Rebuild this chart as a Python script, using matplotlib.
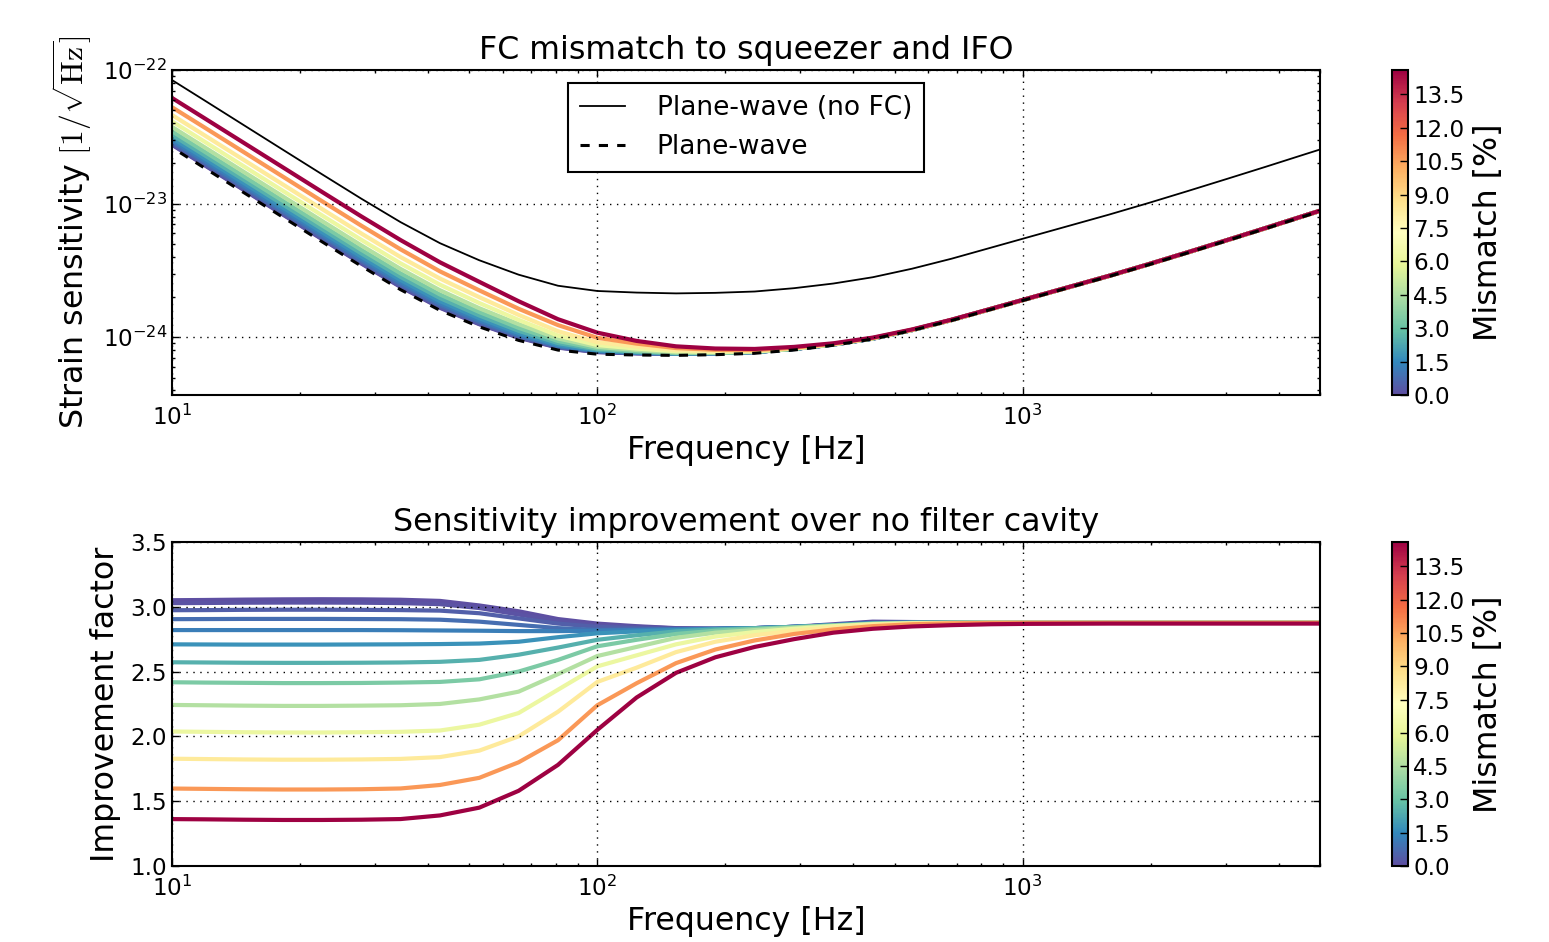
import matplotlib
matplotlib.use("Agg")
import matplotlib.pyplot as plt
import matplotlib.colors as mcolors
import matplotlib.cm as cm
import numpy as np

plt.rcParams['font.family'] = ['DejaVu Sans']
plt.rcParams['mathtext.fontset'] = 'cm'
plt.rcParams['axes.linewidth'] = 1.5

# frequency grid [Hz]
freq = [9.61, 11.89, 14.71, 18.20, 22.52, 27.86, 34.47, 42.66, 52.78, 65.31, 80.82,
        100.0, 123.7, 153.1, 189.4, 234.4, 290.1, 358.9, 444.1, 549.5, 679.9,
        841.4, 1041, 1288, 1594, 1972, 2441, 3020, 3737, 4624, 5722]

# strain sensitivity without filter cavity [1/sqrt(Hz)]
h_nofc = [9.11e-23, 5.96e-23, 3.89e-23, 2.54e-23, 1.66e-23, 1.09e-23, 7.27e-24,
          5.06e-24, 3.77e-24, 2.94e-24, 2.43e-24, 2.22e-24, 2.16e-24, 2.13e-24,
          2.15e-24, 2.20e-24, 2.33e-24, 2.525e-24, 2.814e-24, 3.26e-24, 3.87e-24,
          4.68e-24, 5.66e-24, 6.84e-24, 8.27e-24, 1.009e-23, 1.241e-23, 1.531e-23,
          1.893e-23, 2.35e-23, 2.91e-23]

# ideal plane-wave filter cavity
h_pw = [2.85e-23, 1.86e-23, 1.216e-23, 7.94e-24, 5.19e-24, 3.41e-24, 2.27e-24,
        1.59e-24, 1.197e-24, 9.48e-25, 8.02e-25, 7.47e-25, 7.37e-25, 7.32e-25,
        7.41e-25, 7.59e-25, 8.03e-25, 8.71e-25, 9.70e-25, 1.124e-24, 1.334e-24,
        1.614e-24, 1.952e-24, 2.36e-24, 2.85e-24, 3.48e-24, 4.28e-24, 5.28e-24,
        6.53e-24, 8.10e-24, 1.003e-23]

# FC mode mismatch [%]
mismatch = [0.0, 0.15, 0.4, 0.8, 1.25, 1.75, 2.5, 3.4, 4.6, 6.2, 8.3, 10.7, 14.6]
mismatch_max = 14.6

# improvement factor (h_nofc / h_fc) for each mismatch
impr_0 = [3.05, 3.052, 3.055, 3.057, 3.058, 3.057, 3.054, 3.045, 3.01, 2.965, 2.905,
          2.87, 2.85, 2.835, 2.83, 2.835, 2.845, 2.865, 2.885, 2.882, 2.88, 2.878,
          2.878, 2.877, 2.877, 2.877, 2.877, 2.876, 2.876, 2.876, 2.876]
impr_1 = [3.027, 3.029, 3.031, 3.032, 3.032, 3.031, 3.028, 3.02, 2.99, 2.94, 2.89,
          2.855, 2.845, 2.833, 2.83, 2.835, 2.845, 2.858, 2.88, 2.877, 2.877, 2.877,
          2.877, 2.876, 2.876, 2.876, 2.876, 2.876, 2.876, 2.876, 2.876]
impr_2 = [2.973, 2.974, 2.976, 2.977, 2.977, 2.976, 2.974, 2.97, 2.95, 2.91, 2.87,
          2.845, 2.835, 2.83, 2.83, 2.835, 2.845, 2.858, 2.875, 2.877, 2.877, 2.877,
          2.876, 2.876, 2.876, 2.876, 2.876, 2.876, 2.876, 2.876, 2.876]
impr_3 = [2.904, 2.905, 2.906, 2.906, 2.906, 2.905, 2.904, 2.90, 2.885, 2.86, 2.835,
          2.822, 2.825, 2.827, 2.83, 2.835, 2.845, 2.858, 2.875, 2.877, 2.877, 2.877,
          2.876, 2.876, 2.876, 2.876, 2.876, 2.876, 2.876, 2.876, 2.876]
impr_4 = [2.82, 2.82, 2.82, 2.82, 2.82, 2.82, 2.819, 2.817, 2.815, 2.812, 2.812,
          2.815, 2.82, 2.825, 2.83, 2.835, 2.845, 2.858, 2.873, 2.877, 2.877, 2.877,
          2.876, 2.876, 2.876, 2.876, 2.876, 2.876, 2.876, 2.876, 2.876]
impr_5 = [2.71, 2.709, 2.708, 2.708, 2.708, 2.709, 2.71, 2.712, 2.716, 2.73, 2.765,
          2.795, 2.81, 2.82, 2.828, 2.835, 2.845, 2.857, 2.872, 2.877, 2.877, 2.877,
          2.876, 2.876, 2.876, 2.876, 2.876, 2.876, 2.876, 2.876, 2.876]
impr_6 = [2.572, 2.57, 2.568, 2.567, 2.567, 2.568, 2.57, 2.575, 2.59, 2.63, 2.685,
          2.745, 2.78, 2.81, 2.825, 2.833, 2.843, 2.856, 2.87, 2.876, 2.877, 2.877,
          2.876, 2.876, 2.876, 2.876, 2.876, 2.876, 2.876, 2.876, 2.876]
impr_7 = [2.418, 2.415, 2.413, 2.411, 2.411, 2.412, 2.415, 2.42, 2.44, 2.50, 2.59,
          2.695, 2.745, 2.79, 2.815, 2.83, 2.842, 2.855, 2.869, 2.875, 2.876, 2.876,
          2.876, 2.876, 2.876, 2.876, 2.876, 2.876, 2.876, 2.876, 2.876]
impr_8 = [2.243, 2.24, 2.237, 2.235, 2.235, 2.237, 2.24, 2.25, 2.285, 2.345, 2.48,
          2.62, 2.69, 2.76, 2.80, 2.82, 2.838, 2.853, 2.867, 2.874, 2.876, 2.876,
          2.876, 2.876, 2.876, 2.876, 2.876, 2.876, 2.876, 2.876, 2.876]
impr_9 = [2.038, 2.035, 2.032, 2.03, 2.03, 2.032, 2.035, 2.045, 2.09, 2.18, 2.36,
          2.54, 2.625, 2.71, 2.77, 2.805, 2.83, 2.85, 2.865, 2.872, 2.875, 2.876,
          2.876, 2.876, 2.876, 2.876, 2.876, 2.876, 2.876, 2.876, 2.876]
impr_10 = [1.828, 1.825, 1.822, 1.82, 1.82, 1.822, 1.826, 1.84, 1.89, 2.00, 2.19,
           2.42, 2.53, 2.65, 2.73, 2.78, 2.815, 2.84, 2.86, 2.87, 2.874, 2.876,
           2.876, 2.876, 2.876, 2.876, 2.876, 2.876, 2.876, 2.876, 2.876]
impr_11 = [1.598, 1.595, 1.592, 1.59, 1.59, 1.592, 1.598, 1.625, 1.68, 1.80, 1.97,
           2.24, 2.41, 2.565, 2.67, 2.74, 2.79, 2.825, 2.85, 2.865, 2.872, 2.875,
           2.876, 2.876, 2.876, 2.876, 2.876, 2.876, 2.876, 2.876, 2.876]
impr_12 = [1.362, 1.36, 1.357, 1.355, 1.355, 1.357, 1.362, 1.39, 1.45, 1.58, 1.78,
           2.05, 2.30, 2.49, 2.61, 2.69, 2.75, 2.80, 2.83, 2.848, 2.858, 2.865,
           2.868, 2.869, 2.87, 2.87, 2.87, 2.87, 2.87, 2.87, 2.87]

improvement = [impr_0, impr_1, impr_2, impr_3, impr_4, impr_5, impr_6,
               impr_7, impr_8, impr_9, impr_10, impr_11, impr_12]

cbar_ticks = [0.0, 1.5, 3.0, 4.5, 6.0, 7.5, 9.0, 10.5, 12.0, 13.5]

LABEL_FS = 22.8
TICK_FS = 16.6

cmap = plt.get_cmap('Spectral_r')
norm = mcolors.Normalize(vmin=0, vmax=mismatch_max)
freq = np.array(freq)

fig = plt.figure(figsize=(15.49, 9.42), dpi=100)
ax1 = fig.add_axes([0.111, 0.5807, 0.7412, 0.345])
ax2 = fig.add_axes([0.111, 0.0807, 0.7412, 0.344])
cax1 = fig.add_axes([0.8987, 0.5807, 0.0105, 0.345])
cax2 = fig.add_axes([0.8987, 0.0807, 0.0105, 0.344])

# strain sensitivity
for m, imp in zip(mismatch, improvement):
    ax1.loglog(freq, np.array(h_nofc) / np.array(imp), color=cmap(norm(m)), lw=3)
ax1.loglog(freq, h_nofc, 'k-', lw=1.3, label='Plane-wave (no FC)')
ax1.loglog(freq, h_pw, color='k', lw=2.2, linestyle=(0, (3, 3)), label='Plane-wave')
ax1.set_xlim(10, 5000)
ax1.set_ylim(3.7e-25, 1e-22)
ax1.set_title('FC mismatch to squeezer and IFO', fontsize=LABEL_FS, pad=8)
ax1.set_xlabel('Frequency [Hz]', fontsize=LABEL_FS)
ax1.set_ylabel(r'Strain sensitivity $[1/\sqrt{\mathrm{Hz}}]$', fontsize=LABEL_FS,
               labelpad=6)
leg = ax1.legend(loc='upper center', fontsize=19, fancybox=False, framealpha=1,
                 edgecolor='k', handlelength=1.7, handletextpad=1.2, borderpad=0.45,
                 labelspacing=0.5)
leg.get_frame().set_linewidth(1.5)

# improvement factor
for m, imp in zip(mismatch, improvement):
    ax2.semilogx(freq, imp, color=cmap(norm(m)), lw=3)
ax2.set_xlim(10, 5000)
ax2.set_ylim(1.0, 3.5)
ax2.set_yticks([1.0, 1.5, 2.0, 2.5, 3.0, 3.5])
ax2.set_yticklabels(['1.0', '1.5', '2.0', '2.5', '3.0', '3.5'])
ax2.set_title('Sensitivity improvement over no filter cavity', fontsize=LABEL_FS, pad=8)
ax2.set_xlabel('Frequency [Hz]', fontsize=LABEL_FS)
ax2.set_ylabel('Improvement factor', fontsize=LABEL_FS, labelpad=7)

for ax in (ax1, ax2):
    ax.set_axisbelow(False)
    ax.grid(True, which='major', color='k', linestyle=(0, (1, 4)), lw=1.0)
    ax.tick_params(which='both', direction='in', top=True, right=True,
                   labelsize=TICK_FS)
    ax.tick_params(which='major', length=5, width=1)
    ax.tick_params(which='minor', length=2.5, width=1)
    ax.tick_params(axis='x', pad=7)

for cax in (cax1, cax2):
    cb = fig.colorbar(cm.ScalarMappable(norm=norm, cmap=cmap), cax=cax)
    cb.set_ticks(cbar_ticks)
    cb.set_ticklabels(['%.1f' % t for t in cbar_ticks])
    cb.ax.tick_params(direction='in', length=6, width=1, labelsize=TICK_FS)
    cb.outline.set_linewidth(1.5)
    cb.set_label('Mismatch [%]', fontsize=LABEL_FS, labelpad=6)

fig.savefig('out.png', dpi=100, facecolor='white')
